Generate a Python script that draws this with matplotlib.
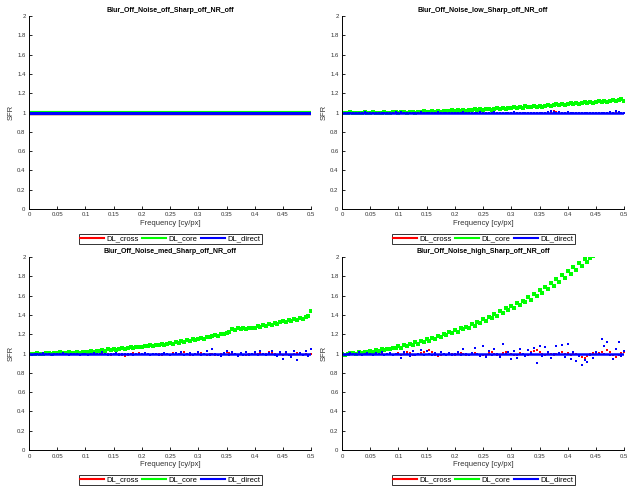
import numpy as np
import matplotlib.pyplot as plt
from matplotlib.lines import Line2D

plt.rcParams['font.family'] = ['Liberation Sans', 'DejaVu Sans']

# frequency grid of the noisy panels (cy/px)
freq = np.linspace(0, 0.5, 101)

# panel 1: everything sits on 1.0
flat_freq = [0.0, 0.5]
flat_sfr = [1.0, 1.0]

# noise low
core_low = [1.00, 1.00, 1.00, 1.01, 1.00, 0.99, 1.00, 1.00, 1.01, 1.00,
            1.00, 1.01, 1.00, 0.99, 1.00, 1.01, 1.00, 1.00, 1.01, 1.01,
            1.00, 1.01, 1.01, 1.00, 1.01, 1.01, 1.00, 1.01, 1.01, 1.02,
            1.01, 1.01, 1.02, 1.01, 1.02, 1.01, 1.02, 1.02, 1.02, 1.03,
            1.02, 1.03, 1.02, 1.03, 1.02, 1.03, 1.03, 1.04, 1.03, 1.04,
            1.03, 1.04, 1.04, 1.03, 1.04, 1.05, 1.04, 1.05, 1.04, 1.05,
            1.05, 1.06, 1.05, 1.06, 1.05, 1.07, 1.06, 1.06, 1.07, 1.06,
            1.07, 1.06, 1.07, 1.08, 1.07, 1.08, 1.09, 1.08, 1.09, 1.08,
            1.09, 1.10, 1.09, 1.10, 1.09, 1.10, 1.11, 1.10, 1.11, 1.10,
            1.11, 1.12, 1.11, 1.12, 1.11, 1.12, 1.13, 1.12, 1.13, 1.14,
            1.12]
cross_low = [1.00, 1.00, 1.00, 1.00, 1.00, 1.00, 1.00, 1.00, 1.00, 1.00,
             1.00, 1.00, 0.99, 1.00, 1.00, 1.00, 1.00, 1.00, 1.00, 1.00,
             1.00, 1.00, 1.00, 1.00, 0.99, 1.00, 1.00, 1.00, 1.00, 1.00,
             1.00, 1.00, 1.00, 1.00, 1.00, 1.00, 1.00, 1.00, 1.00, 1.00,
             1.00, 1.00, 1.00, 1.00, 1.00, 1.00, 1.00, 1.00, 1.00, 1.00,
             1.00, 1.00, 1.00, 1.00, 1.00, 0.99, 1.00, 1.00, 1.00, 1.00,
             1.00, 1.00, 0.99, 0.99, 1.00, 1.00, 1.00, 1.00, 1.00, 1.00,
             1.00, 1.00, 1.00, 1.00, 1.01, 1.02, 1.01, 1.00, 1.00, 1.00,
             1.00, 1.00, 1.00, 1.00, 1.00, 0.99, 0.99, 1.00, 1.00, 0.99,
             1.00, 0.99, 1.00, 1.00, 0.99, 1.00, 1.00, 1.01, 1.00, 0.99,
             1.00]
direct_low = [1.00, 1.00, 1.00, 1.00, 1.00, 1.00, 1.00, 1.00, 1.01, 1.00,
              1.00, 1.00, 0.99, 1.00, 1.00, 1.00, 1.00, 1.00, 1.00, 1.01,
              1.00, 1.01, 1.00, 0.99, 1.00, 1.00, 1.00, 1.00, 1.01, 1.00,
              1.00, 1.00, 1.00, 1.00, 1.01, 1.00, 1.00, 1.00, 1.00, 1.00,
              1.00, 1.00, 1.00, 1.01, 1.00, 1.00, 1.00, 1.00, 1.00, 1.01,
              1.00, 1.00, 1.00, 1.00, 1.01, 1.00, 1.00, 1.00, 1.00, 1.00,
              1.00, 1.01, 1.00, 1.00, 1.00, 1.00, 1.00, 0.99, 0.99, 1.00,
              0.99, 1.00, 1.00, 1.01, 1.02, 1.01, 1.00, 1.01, 1.00, 1.00,
              1.01, 1.00, 1.00, 1.00, 0.99, 1.00, 0.99, 0.99, 1.00, 1.00,
              1.00, 1.00, 1.00, 0.99, 1.00, 1.01, 1.00, 1.02, 1.01, 0.99,
              1.00]

# noise med
core_med = [1.00, 1.00, 1.00, 1.01, 1.00, 1.00, 1.01, 1.01, 1.00, 1.01,
            1.01, 1.02, 1.01, 1.01, 1.02, 1.01, 1.01, 1.02, 1.01, 1.02,
            1.02, 1.02, 1.03, 1.02, 1.03, 1.03, 1.04, 1.03, 1.05, 1.04,
            1.05, 1.04, 1.05, 1.06, 1.05, 1.06, 1.07, 1.06, 1.07, 1.07,
            1.07, 1.08, 1.08, 1.09, 1.08, 1.09, 1.09, 1.10, 1.09, 1.10,
            1.11, 1.10, 1.12, 1.11, 1.13, 1.12, 1.14, 1.13, 1.15, 1.14,
            1.15, 1.16, 1.15, 1.17, 1.17, 1.18, 1.19, 1.18, 1.20, 1.20,
            1.21, 1.22, 1.25, 1.24, 1.26, 1.25, 1.26, 1.25, 1.27, 1.26,
            1.27, 1.29, 1.28, 1.30, 1.29, 1.31, 1.30, 1.32, 1.31, 1.33,
            1.34, 1.33, 1.35, 1.34, 1.36, 1.35, 1.37, 1.36, 1.38, 1.39,
            1.44]
cross_med = [1.00, 1.00, 1.00, 1.00, 1.00, 1.00, 1.00, 1.01, 1.00, 1.00,
             1.00, 1.01, 1.01, 1.00, 1.00, 1.00, 1.00, 1.00, 1.00, 1.00,
             1.00, 1.00, 1.00, 1.01, 1.00, 1.00, 1.00, 1.01, 1.00, 0.99,
             1.00, 1.00, 1.00, 0.99, 0.97, 0.98, 1.00, 1.01, 1.00, 1.01,
             1.00, 1.00, 1.00, 0.99, 1.00, 1.00, 1.00, 0.99, 1.00, 1.00,
             0.99, 1.01, 1.01, 1.00, 1.00, 1.02, 1.00, 0.99, 0.99, 1.00,
             1.00, 1.01, 1.00, 0.99, 1.00, 1.00, 0.99, 0.98, 1.00, 1.01,
             1.02, 1.01, 1.00, 1.00, 0.99, 1.00, 0.98, 0.99, 1.00, 1.00,
             1.00, 1.00, 1.01, 1.00, 1.00, 1.02, 1.01, 1.00, 0.99, 1.00,
             0.99, 1.00, 0.99, 0.98, 1.00, 1.01, 1.00, 0.99, 1.00, 0.99,
             1.00]
direct_med = [1.00, 0.99, 1.00, 1.00, 1.00, 1.01, 1.00, 1.00, 0.99, 1.00,
              1.00, 1.00, 1.01, 1.00, 0.99, 1.00, 1.00, 1.00, 0.99, 1.00,
              1.00, 0.99, 1.00, 1.01, 1.00, 1.00, 1.02, 1.00, 0.99, 1.00,
              1.00, 1.01, 0.99, 1.00, 1.00, 1.00, 1.00, 0.99, 1.00, 1.00,
              1.00, 1.01, 1.00, 0.99, 1.00, 1.00, 0.98, 1.00, 1.01, 1.00,
              0.98, 1.00, 1.01, 1.00, 1.02, 0.99, 1.00, 1.01, 0.98, 1.00,
              1.02, 0.99, 1.00, 1.03, 0.98, 1.05, 1.00, 0.99, 0.97, 1.01,
              1.03, 0.99, 1.02, 1.00, 0.97, 1.01, 0.99, 1.02, 0.98, 1.00,
              1.02, 0.99, 1.03, 1.00, 0.98, 1.01, 1.03, 0.99, 0.97, 1.02,
              0.94, 1.02, 0.99, 0.96, 1.03, 0.93, 1.01, 0.98, 1.03, 0.97,
              1.05]

# noise high
core_high = [1.00, 0.99, 1.00, 1.01, 1.01, 1.00, 1.02, 1.01, 1.02, 1.02,
             1.03, 1.02, 1.04, 1.03, 1.05, 1.04, 1.05, 1.05, 1.06, 1.06,
             1.08, 1.06, 1.09, 1.08, 1.10, 1.09, 1.12, 1.10, 1.13, 1.12,
             1.15, 1.13, 1.16, 1.15, 1.18, 1.17, 1.20, 1.19, 1.22, 1.21,
             1.24, 1.22, 1.26, 1.25, 1.28, 1.27, 1.31, 1.29, 1.33, 1.32,
             1.36, 1.34, 1.38, 1.37, 1.41, 1.39, 1.44, 1.42, 1.47, 1.45,
             1.49, 1.47, 1.52, 1.50, 1.55, 1.53, 1.59, 1.56, 1.62, 1.60,
             1.66, 1.63, 1.69, 1.67, 1.73, 1.70, 1.77, 1.74, 1.81, 1.78,
             1.86, 1.82, 1.90, 1.87, 1.94, 1.91, 1.98, 1.95, 1.99, 2.01,
             2.04, 2.03, 2.07, 2.06, 2.10, 2.09, 2.13, 2.12, 2.16, 2.15,
             2.19]
cross_high = [1.00, 0.99, 0.99, 1.00, 1.01, 1.00, 1.00, 1.01, 1.00, 1.00,
              1.01, 1.00, 1.00, 1.01, 1.00, 0.99, 1.00, 1.00, 0.99, 1.00,
              1.01, 0.99, 1.00, 1.02, 1.01, 0.99, 0.98, 1.00, 1.01, 1.02,
              1.03, 1.04, 1.02, 0.98, 0.97, 0.99, 1.00, 0.99, 1.00, 1.00,
              0.99, 1.00, 1.01, 1.00, 0.99, 0.98, 1.00, 1.01, 1.00, 0.99,
              0.98, 0.99, 1.01, 1.02, 1.00, 0.98, 0.99, 1.01, 1.02, 1.02,
              1.00, 0.98, 0.99, 1.01, 1.00, 0.98, 0.99, 1.02, 1.03, 1.04,
              1.02, 1.00, 0.99, 1.01, 1.00, 0.99, 1.00, 1.01, 1.02, 1.00,
              1.01, 0.99, 1.00, 1.00, 0.98, 0.96, 0.95, 0.97, 1.00, 1.01,
              1.00, 1.01, 1.02, 1.00, 1.04, 1.02, 0.98, 0.96, 0.99, 1.01,
              1.02]
direct_high = [1.00, 0.98, 1.00, 1.01, 1.00, 1.00, 1.02, 0.99, 1.00, 1.01,
               1.00, 0.99, 1.01, 1.00, 1.02, 0.99, 1.00, 1.01, 0.98, 1.00,
               1.00, 0.95, 1.02, 1.00, 0.97, 1.03, 0.99, 1.00, 1.04, 0.98,
               1.03, 1.00, 0.99, 1.01, 0.98, 1.02, 1.00, 0.99, 1.01, 0.98,
               1.00, 1.02, 0.98, 1.05, 1.00, 0.99, 1.01, 1.06, 1.00, 0.97,
               1.08, 0.96, 1.03, 0.98, 1.05, 1.00, 0.96, 1.10, 1.00, 1.02,
               0.94, 1.03, 0.95, 1.05, 1.00, 0.97, 1.04, 1.01, 1.06, 0.90,
               1.08, 0.97, 1.07, 1.02, 0.95, 1.00, 1.08, 1.01, 1.09, 0.96,
               1.10, 0.94, 1.02, 0.92, 0.97, 0.88, 0.93, 0.91, 0.99, 0.95,
               1.02, 1.00, 1.15, 1.08, 1.12, 0.98, 0.94, 1.05, 1.12, 0.97,
               1.03]

# mean level of DL_direct drawn as a line
trend_freq = [0.0, 0.5]
direct_trend = [1.0, 1.0]

titles = ['Blur_Off_Noise_off_Sharp_off_NR_off',
          'Blur_Off_Noise_low_Sharp_off_NR_off',
          'Blur_Off_Noise_med_Sharp_off_NR_off',
          'Blur_Off_Noise_high_Sharp_off_NR_off']
labels = ['DL_cross', 'DL_core', 'DL_direct']
colors = ['#ff0000', '#00ff00', '#0000ff']

xticks = [0, 0.05, 0.1, 0.15, 0.2, 0.25, 0.3, 0.35, 0.4, 0.45, 0.5]
xticklabels = ['0', '0.05', '0.1', '0.15', '0.2', '0.25', '0.3', '0.35', '0.4', '0.45', '0.5']
yticks = [0, 0.2, 0.4, 0.6, 0.8, 1.0, 1.2, 1.4, 1.6, 1.8, 2.0]
yticklabels = ['0', '0.2', '0.4', '0.6', '0.8', '1', '1.2', '1.4', '1.6', '1.8', '2']

fig = plt.figure(figsize=(6.27, 4.86), dpi=100)
positions = [[0.0463, 0.570, 0.450, 0.397],
             [0.5455, 0.570, 0.450, 0.397],
             [0.0463, 0.074, 0.450, 0.397],
             [0.5455, 0.074, 0.450, 0.397]]

noisy = [None,
         (cross_low, core_low, direct_low),
         (cross_med, core_med, direct_med),
         (cross_high, core_high, direct_high)]

for i, pos in enumerate(positions):
    ax = fig.add_axes(pos)
    if noisy[i] is None:
        ax.plot(flat_freq, flat_sfr, color=colors[0], lw=2.5, solid_capstyle='butt')
        ax.plot(flat_freq, flat_sfr, color=colors[1], lw=3.0, solid_capstyle='butt')
        ax.plot(flat_freq, flat_sfr, color=colors[2], lw=2.2, solid_capstyle='butt')
    else:
        cross, core, direct = noisy[i]
        ax.plot(freq, cross, 's', color=colors[0], ms=2.0, mew=0)
        ax.plot(freq, core, 's', color=colors[1], ms=2.6, mew=0)
        ax.plot(trend_freq, direct_trend, color=colors[2], lw=1.8)
        ax.plot(freq, direct, 's', color=colors[2], ms=2.0, mew=0)
    ax.set_xlim(0, 0.5)
    ax.set_ylim(0, 2)
    ax.set_xticks(xticks)
    ax.set_xticklabels(xticklabels)
    ax.set_yticks(yticks)
    ax.set_yticklabels(yticklabels)
    ax.tick_params(direction='in', length=2.5, width=0.6, labelsize=4.3, pad=2.5,
                   labelcolor='#333333')
    for s in ['top', 'right']:
        ax.spines[s].set_visible(False)
    for s in ['left', 'bottom']:
        ax.spines[s].set_linewidth(0.7)
    ax.set_title(titles[i], fontsize=5, fontweight='bold', pad=3)
    ax.set_xlabel('Frequency [cy/px]', fontsize=5.5, labelpad=1.5, color='#333333')
    ax.set_ylabel('SFR', fontsize=5.5, labelpad=2, color='#333333')
    handles = [Line2D([], [], color=c, lw=1.5) for c in colors]
    leg = ax.legend(handles, labels, loc='center', bbox_to_anchor=(0.5, -0.155),
                    ncol=3, fontsize=5.5, frameon=True, fancybox=False,
                    handlelength=3.2, handletextpad=0.3, columnspacing=0.4,
                    borderpad=0.15, borderaxespad=0)
    leg.get_frame().set_edgecolor('black')
    leg.get_frame().set_linewidth(0.7)

fig.savefig('out.png', dpi=100)
